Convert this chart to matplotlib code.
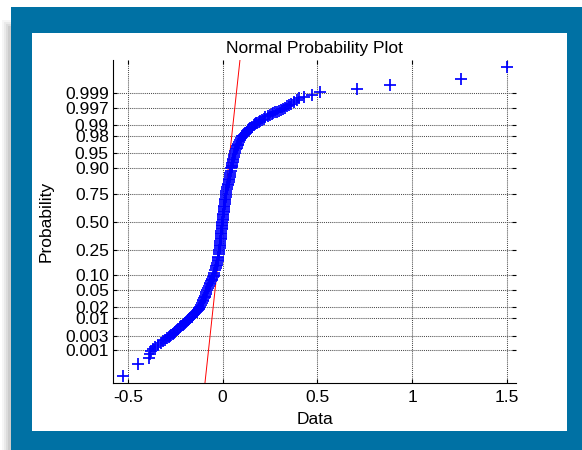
import statistics

import numpy as np
import matplotlib
matplotlib.use("Agg")
import matplotlib.pyplot as plt
from matplotlib.patches import Rectangle

plt.rcParams["font.family"] = ["Liberation Sans", "DejaVu Sans"]

# sorted sample, each point with its plotting probability
low_prob = [0.0001, 0.0003, 0.0005, 0.0007, 0.0009, 0.0011, 0.0013]
low_value = [-0.527, -0.444, -0.386, -0.385, -0.380, -0.368, -0.356]

body_prob = [
    0.0015, 0.00175, 0.002, 0.00225, 0.0025, 0.00275, 0.003, 0.00325, 0.0035, 0.00375,
    0.004, 0.0045, 0.005, 0.0055, 0.006, 0.0065, 0.007, 0.0075, 0.008, 0.0085,
    0.009, 0.0095, 0.010, 0.011, 0.012, 0.013, 0.014, 0.015, 0.016, 0.017,
    0.018, 0.019, 0.020, 0.0225, 0.025, 0.0275, 0.030, 0.0325, 0.035, 0.0375,
    0.040, 0.045, 0.050, 0.055, 0.060, 0.065, 0.070, 0.075, 0.080, 0.085,
    0.090, 0.095, 0.100, 0.11, 0.12, 0.13, 0.14, 0.15, 0.16, 0.17,
    0.18, 0.19, 0.20, 0.215, 0.23, 0.245, 0.26, 0.275, 0.29, 0.305,
    0.32, 0.335, 0.35, 0.365, 0.38, 0.395, 0.41, 0.425, 0.44, 0.455,
    0.47, 0.485, 0.50, 0.515, 0.53, 0.545, 0.56, 0.575, 0.59, 0.605,
    0.62, 0.635, 0.65, 0.665, 0.68, 0.695, 0.71, 0.725, 0.74, 0.755,
    0.77, 0.785, 0.80, 0.81, 0.82, 0.83, 0.84, 0.85, 0.86, 0.87,
    0.88, 0.89, 0.90, 0.905, 0.91, 0.915, 0.92, 0.925, 0.93, 0.935,
    0.94, 0.945, 0.95, 0.955, 0.96, 0.9625, 0.965, 0.9675, 0.97, 0.9725,
    0.975, 0.9775, 0.98, 0.981, 0.982, 0.983, 0.984, 0.985, 0.986, 0.987,
    0.988, 0.989, 0.990, 0.9905, 0.991, 0.9915, 0.992, 0.9925, 0.993, 0.9935,
    0.994, 0.9945, 0.995, 0.99525, 0.9955, 0.99575, 0.996, 0.99625, 0.9965, 0.99675,
    0.997, 0.99725, 0.9975, 0.99775, 0.998, 0.99825, 0.9985,
]
body_value = [
    -0.340, -0.325, -0.312, -0.302, -0.292, -0.284, -0.277, -0.270, -0.264, -0.258,
    -0.252, -0.243, -0.234, -0.226, -0.218, -0.210, -0.203, -0.197, -0.192, -0.187,
    -0.182, -0.177, -0.172, -0.164, -0.157, -0.151, -0.145, -0.140, -0.135, -0.131,
    -0.127, -0.123, -0.119, -0.113, -0.108, -0.104, -0.101, -0.098, -0.095, -0.092,
    -0.090, -0.086, -0.082, -0.077, -0.073, -0.068, -0.064, -0.060, -0.057, -0.054,
    -0.051, -0.048, -0.046, -0.043, -0.040, -0.037, -0.034, -0.031, -0.029, -0.027,
    -0.025, -0.023, -0.022, -0.020, -0.019, -0.017, -0.016, -0.015, -0.014, -0.013,
    -0.012, -0.011, -0.010, -0.009, -0.008, -0.007, -0.006, -0.005, -0.004, -0.0035,
    -0.003, -0.002, -0.001, 0.000, 0.001, 0.002, 0.003, 0.004, 0.005, 0.006,
    0.007, 0.008, 0.009, 0.010, 0.011, 0.0125, 0.014, 0.0155, 0.017, 0.0185,
    0.020, 0.0225, 0.025, 0.027, 0.029, 0.031, 0.033, 0.035, 0.037, 0.039,
    0.041, 0.0435, 0.046, 0.0475, 0.049, 0.0505, 0.052, 0.0535, 0.055, 0.057,
    0.059, 0.0615, 0.064, 0.067, 0.071, 0.0735, 0.076, 0.079, 0.082, 0.086,
    0.091, 0.097, 0.104, 0.108, 0.112, 0.116, 0.121, 0.126, 0.132, 0.139,
    0.146, 0.155, 0.165, 0.171, 0.177, 0.183, 0.190, 0.198, 0.206, 0.216,
    0.226, 0.238, 0.252, 0.260, 0.268, 0.278, 0.288, 0.299, 0.310, 0.320,
    0.330, 0.340, 0.350, 0.362, 0.375, 0.390, 0.405,
]

high_prob = [0.9987, 0.9989, 0.9991, 0.9993, 0.9995, 0.9997, 0.9999]
high_value = [0.430, 0.470, 0.513, 0.707, 0.882, 1.255, 1.498]

# quartiles used for the reference line
q_prob = [0.25, 0.75]
q_value = [-0.017, 0.015]

prob_ticks = [0.001, 0.003, 0.01, 0.02, 0.05, 0.10, 0.25, 0.50,
              0.75, 0.90, 0.95, 0.98, 0.99, 0.997, 0.999]
prob_labels = ["0.001", "0.003", "0.01", "0.02", "0.05", "0.10", "0.25", "0.50",
               "0.75", "0.90", "0.95", "0.98", "0.99", "0.997", "0.999"]
x_ticks = [-0.5, 0, 0.5, 1, 1.5]
x_labels = ["-0.5", "0", "0.5", "1", "1.5"]

nd = statistics.NormalDist()
_ppf = np.vectorize(nd.inv_cdf, otypes=[float])
_cdf = np.vectorize(nd.cdf, otypes=[float])


def to_z(p):
    p = np.clip(np.asarray(p, dtype=float), 1e-12, 1 - 1e-12)
    return _ppf(p)


def from_z(z):
    return _cdf(np.asarray(z, dtype=float))


fig = plt.figure(figsize=(5.82, 4.5), dpi=100)

# framed panel: soft shadow, blue border, white card
for k, a in enumerate([0.05, 0.07, 0.09, 0.12]):
    fig.patches.append(Rectangle((0.004 + 0.0035 * k, 0.0), 0.03, 0.955 - 0.004 * k,
                                 transform=fig.transFigure, facecolor="0.35",
                                 alpha=a, edgecolor="none", zorder=-3))
fig.patches.append(Rectangle((0.019, 0.0), 0.981, 0.985, transform=fig.transFigure,
                             facecolor="#0071a4", edgecolor="none", zorder=-2))
fig.patches.append(Rectangle((0.055, 0.042), 0.919, 0.885, transform=fig.transFigure,
                             facecolor="white", edgecolor="none", zorder=-1))

ax = fig.add_axes([0.1942, 0.1482, 0.6924, 0.7185])
ax.set_facecolor("none")
ax.set_yscale("function", functions=(to_z, from_z))

ax.axline((q_value[0], q_prob[0]), (q_value[1], q_prob[1]),
          color="red", lw=0.7, zorder=2)

prob = low_prob + body_prob + high_prob
value = low_value + body_value + high_value
ax.plot(value, prob, linestyle="none", marker="+", color="#0000ff",
        markersize=8, markeredgewidth=1.25, zorder=3)

ax.set_xlim(-0.578, 1.547)
ax.set_ylim(from_z(-3.895), from_z(3.895))
ax.set_xticks(x_ticks)
ax.set_xticklabels(x_labels)
ax.set_yticks(prob_ticks)
ax.set_yticklabels(prob_labels)

ax.grid(True, color="0.3", linestyle=(0, (1, 1)), linewidth=0.75)
for side in ["top", "right"]:
    ax.spines[side].set_visible(False)
for side in ["left", "bottom"]:
    ax.spines[side].set_linewidth(0.8)
ax.tick_params(direction="in", length=3, width=0.8, labelsize=12.5,
               top=True, right=True, pad=3)
ax.tick_params(axis="x", pad=5)

ax.set_title("Normal Probability Plot", fontsize=12.5, pad=5)
ax.set_xlabel("Data", fontsize=12.5, labelpad=4.5)
ax.set_ylabel("Probability", fontsize=12.5, labelpad=8.5)

fig.savefig("out.png", dpi=100)
